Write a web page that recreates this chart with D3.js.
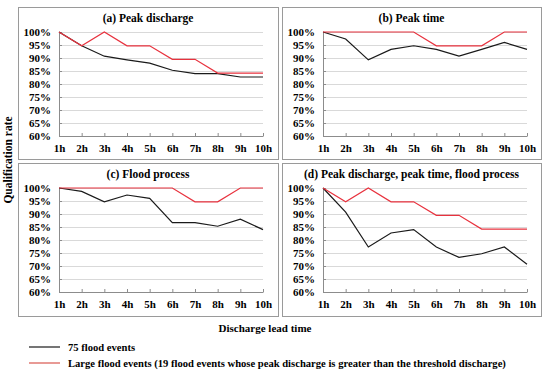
<!DOCTYPE html>
<html>
<head>
<meta charset="utf-8">
<script src="https://cdn.jsdelivr.net/npm/d3@7"></script>
<style>
  body { margin: 0; background: #fff; }
  svg text { font-family: "Liberation Serif", "Times New Roman", serif; font-weight: bold; }
</style>
</head>
<body>
<svg id="chart" width="550" height="375"></svg>
<script>
// DATA
const leadTimes = ["1h", "2h", "3h", "4h", "5h", "6h", "7h", "8h", "9h", "10h"];
const yTicks = [0.60, 0.65, 0.70, 0.75, 0.80, 0.85, 0.90, 0.95, 1.00];
const panelTitles = ["(a) Peak discharge", "(b) Peak time", "(c) Flood process", "(d) Peak discharge, peak time, flood process"];

// 75 flood events (black)
const allPeakDischarge = [1.000, 0.947, 0.907, 0.893, 0.880, 0.853, 0.840, 0.840, 0.827, 0.827];
const allPeakTime      = [1.000, 0.973, 0.893, 0.933, 0.947, 0.933, 0.907, 0.933, 0.960, 0.933];
const allFloodProcess  = [1.000, 0.987, 0.947, 0.973, 0.960, 0.867, 0.867, 0.853, 0.880, 0.840];
const allCombined      = [1.000, 0.907, 0.773, 0.827, 0.840, 0.773, 0.733, 0.747, 0.773, 0.707];

// 19 large flood events (red)
const largePeakDischarge = [1.000, 0.947, 1.000, 0.947, 0.947, 0.895, 0.895, 0.842, 0.842, 0.842];
const largePeakTime      = [1.000, 1.000, 1.000, 1.000, 1.000, 0.947, 0.947, 0.947, 1.000, 1.000];
const largeFloodProcess  = [1.000, 1.000, 1.000, 1.000, 1.000, 1.000, 0.947, 0.947, 1.000, 1.000];
const largeCombined      = [1.000, 0.947, 1.000, 0.947, 0.947, 0.895, 0.895, 0.842, 0.842, 0.842];

const legendLabels = ["75 flood events", "Large flood events (19 flood events whose peak discharge is greater than the threshold discharge)"];

// LAYOUT
const svg = d3.select("#chart");
const plotW = 204, plotH = 104;
const panels = [
  { box: [18, 7, 260, 152],  title: panelTitles[0], all: allPeakDischarge, large: largePeakDischarge },
  { box: [282, 7, 259, 152], title: panelTitles[1], all: allPeakTime,      large: largePeakTime },
  { box: [18, 163, 260, 153], title: panelTitles[2], all: allFloodProcess,  large: largeFloodProcess },
  { box: [282, 163, 259, 153], title: panelTitles[3], all: allCombined,     large: largeCombined }
];
const BLACK = "#1a1a1a", RED = "#e8323e";

const x = d3.scalePoint().domain(leadTimes).range([0, plotW]).padding(0);
const y = d3.scaleLinear().domain([0.6, 1.0]).range([plotH, 0]);

const line = d3.line()
  .x((d, i) => x(leadTimes[i]))
  .y(d => y(d));

panels.forEach(p => {
  const [bx, by, bw, bh] = p.box;

  // frame
  svg.append("rect")
    .attr("x", bx + 0.5).attr("y", by + 0.5)
    .attr("width", bw).attr("height", bh)
    .attr("fill", "none").attr("stroke", "#9a9a9a");

  // title
  svg.append("text")
    .attr("x", bx + bw / 2).attr("y", by + 15)
    .attr("text-anchor", "middle")
    .attr("font-size", 11.5)
    .text(p.title);

  const g = svg.append("g").attr("transform", `translate(${bx + 41},${by + 25})`);

  // gridlines
  g.append("g").selectAll("line")
    .data(yTicks.slice(1))
    .join("line")
    .attr("x1", 0).attr("x2", plotW)
    .attr("y1", d => Math.round(y(d)) + 0.5).attr("y2", d => Math.round(y(d)) + 0.5)
    .attr("stroke", "#d9d9d9");

  // y axis
  const yAxis = g.append("g")
    .call(d3.axisLeft(y).tickValues(yTicks).tickFormat(d3.format(".0%")).tickSizeInner(-3).tickSizeOuter(0).tickPadding(8))
    .attr("font-family", null).attr("font-size", 11);
  yAxis.select(".domain").attr("stroke", "#8c8c8c");
  yAxis.selectAll(".tick line").attr("stroke", "#8c8c8c");
  yAxis.selectAll("text").attr("fill", "#000");

  // x axis
  const xAxis = g.append("g")
    .attr("transform", `translate(0,${plotH})`)
    .call(d3.axisBottom(x).tickSizeInner(-3).tickSizeOuter(0).tickPadding(8))
    .attr("font-family", null).attr("font-size", 11);
  xAxis.select(".domain").attr("stroke", "#8c8c8c");
  xAxis.selectAll(".tick line").attr("stroke", "#8c8c8c");
  xAxis.selectAll("text").attr("fill", "#000");

  // lines
  g.append("path").datum(p.all)
    .attr("d", line).attr("fill", "none")
    .attr("stroke", BLACK).attr("stroke-width", 1.2);
  g.append("path").datum(p.large)
    .attr("d", line).attr("fill", "none")
    .attr("stroke", RED).attr("stroke-width", 1.2);
});

// y axis title
svg.append("text")
  .attr("transform", "translate(12,160) rotate(-90)")
  .attr("text-anchor", "middle")
  .attr("font-size", 11.5)
  .text("Qualification rate");

// x axis title
svg.append("text")
  .attr("x", 265).attr("y", 332)
  .attr("text-anchor", "middle")
  .attr("font-size", 11)
  .text("Discharge lead time");

// legend
const legend = svg.append("g");
[BLACK, "#d9574f"].forEach((c, i) => {
  const ly = 347 + i * 16;
  legend.append("line")
    .attr("x1", 29).attr("x2", 60)
    .attr("y1", ly).attr("y2", ly)
    .attr("stroke", c).attr("stroke-width", 1.2);
  legend.append("text")
    .attr("x", 68).attr("y", ly + 4)
    .attr("font-size", 10.6)
    .text(legendLabels[i]);
});
</script>
</body>
</html>
